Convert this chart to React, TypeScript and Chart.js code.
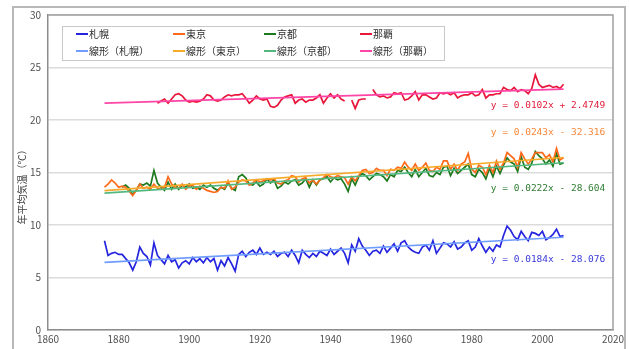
import { useEffect, useRef } from 'react';
import { Chart, registerables } from 'chart.js';

Chart.register(...registerables);

const START_YEAR = 1876;

const sapporo = [
  8.5, 7.1, 7.3, 7.4, 7.2, 7.2, 6.8, 6.4, 5.7, 6.5,
  7.9, 7.3, 7.0, 6.2, 8.3, 7.1, 6.7, 6.3, 7.1, 6.5,
  6.7, 5.9, 6.4, 6.6, 6.3, 6.9, 6.5, 6.8, 6.4, 6.9,
  6.5, 6.8, 5.7, 6.6, 6.1, 6.9, 6.3, 5.6, 7.2, 7.5,
  7.0, 7.4, 7.6, 7.2, 7.8, 7.2, 7.4, 7.2, 7.5, 7.0,
  7.3, 7.4, 7.0, 7.6, 7.1, 6.4, 7.6, 7.2, 6.9, 7.3,
  7.0, 7.5, 7.3, 7.1, 7.7, 7.2, 7.5, 7.8, 7.3, 6.4,
  8.1, 7.5, 8.7, 8.0, 7.6, 7.1, 7.5, 7.6, 7.3, 8.0,
  7.4, 7.8, 8.2, 7.5, 8.3, 8.5, 7.9, 7.6, 7.4, 7.3,
  7.9, 8.1, 7.6, 8.5, 7.3, 7.8, 8.3, 8.2, 7.9, 8.4,
  7.7, 7.9, 8.3, 8.5, 7.6, 7.9, 8.7, 8.0, 7.4, 7.9,
  7.5, 8.1, 7.9, 9.0, 9.9, 9.5, 8.9, 8.6, 9.4, 8.9,
  8.5, 9.3, 9.2, 9.0, 9.4, 8.6, 8.8, 9.1, 9.6, 8.9, 9.0,
];

const tokyo = [
  13.6, 13.9, 14.3, 14.0, 13.6, 13.7, 13.6, 13.2, 12.8, 13.3,
  13.9, 13.5, 13.6, 13.4, 13.9, 13.5, 13.4, 13.6, 14.6, 13.9,
  13.6, 13.5, 13.9, 13.4, 13.7, 13.8, 13.4, 13.7, 13.5, 13.3,
  13.2, 13.1, 13.2, 13.6, 13.5, 14.2, 13.4, 13.6, 14.1, 14.3,
  14.2, 13.8, 14.0, 14.3, 14.1, 14.2, 14.4, 14.3, 14.4, 14.0,
  13.9, 14.2, 14.3, 14.7, 14.6, 14.1, 14.4, 14.5, 14.0, 14.3,
  13.9, 14.3, 14.5, 14.8, 14.6, 14.5, 14.7, 14.6, 14.5, 13.9,
  14.6, 14.2, 14.7, 15.2, 15.3, 14.9, 15.0, 15.4, 15.2, 15.2,
  14.7, 15.3, 15.2, 15.5, 15.4, 16.0, 15.5, 15.2, 15.8, 15.2,
  15.5, 15.9, 15.2, 15.1, 15.5, 15.3, 16.1, 16.1, 15.3, 15.8,
  15.2, 15.8, 16.0, 16.8, 15.3, 15.0, 15.7, 15.5, 14.8, 15.7,
  15.0, 16.1, 15.3, 15.9, 16.9, 16.6, 16.3, 15.5, 16.9, 16.3,
  15.8, 16.3, 16.9, 16.9, 16.9, 16.4, 16.7, 16.0, 17.3, 16.2, 16.4,
];

const kyoto = [
  null, null, null, null, null, 13.6, 13.8, 13.5, 12.9, 13.3,
  13.9, 13.8, 14.0, 13.7, 15.2, 14.0, 13.6, 13.3, 14.1, 13.4,
  13.9, 13.4, 13.8, 13.6, 13.9, 13.5, 13.6, 13.4, 13.8, 13.6,
  13.8, 13.5, 13.3, 13.6, 13.4, 14.0, 13.5, 13.3, 14.6, 14.8,
  14.5, 13.9, 13.8, 14.1, 13.7, 13.9, 14.4, 14.0, 14.3, 13.5,
  13.7, 14.1, 13.9, 14.2, 14.3, 13.8, 14.0, 14.4, 13.6, 14.3,
  13.8, 14.3, 14.4, 14.6, 14.1, 14.5, 14.3, 14.4, 13.9, 13.2,
  14.4, 13.8, 14.6, 14.9, 14.7, 14.3, 14.6, 14.9, 14.8, 14.6,
  14.2, 14.8, 14.6, 15.2, 15.1, 15.5, 15.0, 14.6, 15.3, 14.6,
  15.0, 15.4, 14.7, 14.6, 15.0, 14.8, 15.5, 15.6, 14.7, 15.4,
  14.9, 15.2, 15.5, 15.8, 14.8, 14.6, 15.3, 15.0, 14.4, 15.4,
  14.6, 15.6, 14.9, 15.7, 16.4, 16.0, 15.8, 15.1, 16.5, 15.5,
  15.3, 15.9, 17.0, 16.6, 16.3, 15.8, 16.2, 15.6, 16.8, 15.8, 15.9,
];

const naha = [
  null, null, null, null, null, null, null, null, null, null,
  null, null, null, null, null, 21.6, 21.8, 22.0, 21.6, 22.0,
  22.4, 22.5, 22.3, 21.9, 21.7, 21.8, 21.7, 21.8, 22.0, 22.4,
  22.3, 21.9, 21.8, 21.9, 22.2, 22.4, 22.3, 22.4, 22.4, 22.5,
  22.1, 21.6, 21.9, 22.3, 22.0, 21.9, 22.0, 21.3, 21.2, 21.4,
  21.9, 22.2, 22.3, 22.4, 21.6, 21.9, 22.0, 21.7, 21.9, 21.9,
  22.1, 22.4, 21.6, 22.1, 22.5, 22.1, 22.4, 22.0, 21.8, null,
  21.9, 21.1, 21.9, 22.0, 22.0, null, 22.9, 22.4, 22.2, 22.3,
  22.1, 22.2, 22.6, 22.5, 22.6, 21.9, 22.0, 22.3, 22.7, 21.9,
  22.4, 22.4, 22.2, 22.0, 22.1, 22.6, 22.5, 22.6, 22.4, 22.6,
  22.1, 22.3, 22.4, 22.4, 22.6, 22.3, 22.4, 22.9, 22.1, 22.4,
  22.4, 22.5, 22.5, 23.1, 22.9, 22.8, 23.1, 22.7, 22.9, 22.8,
  22.5, 23.0, 24.3, 23.4, 23.1, 23.2, 23.3, 23.1, 23.2, 23.0, 23.4,
];

const trendYears = [1876, 2006];
const sapporoTrend = [6.44, 8.83];
const tokyoTrend = [13.27, 16.43];
const kyotoTrend = [13.04, 15.93];
const nahaTrend = [21.61, 22.94];

const seriesNames = ['札幌', '東京', '京都', '那覇'];
const trendNames = ['線形（札幌）', '線形（東京）', '線形（京都）', '線形（那覇）'];
const equations = ['y = 0.0102x + 2.4749', 'y = 0.0243x - 32.316', 'y = 0.0222x - 28.604', 'y = 0.0184x - 28.076'];
const xTickValues = [1860, 1880, 1900, 1920, 1940, 1960, 1980, 2000, 2020];
const yTickValues = [0, 5, 10, 15, 20, 25, 30];
const yAxisTitle = '年平均気温（℃）';

const dataColors = ['#2525e0', '#ff6a1a', '#1e7a1e', '#e8163a'];
const trendColors = ['#6f9cff', '#f5aa2a', '#52b87e', '#ff45a5'];
const eqColors = ['#e0203c', '#f7873a', '#2e7d32', '#3a3ad8'];

const JP = "'Noto Sans CJK JP', 'Noto Sans', sans-serif";

function toPoints(values: (number | null)[]) {
  return values.map((v, i) => ({ x: START_YEAR + i, y: v }));
}
function toTrend(values: number[]) {
  return values.map((v, i) => ({ x: trendYears[i], y: v }));
}

const decorPlugin = {
  id: 'decor',
  beforeDraw(chart: any) {
    const { ctx, width, height } = chart;
    ctx.save();
    ctx.fillStyle = '#ffffff';
    ctx.fillRect(0, 0, width, height);
    ctx.strokeStyle = '#b8b8b8';
    ctx.lineWidth = 2;
    ctx.strokeRect(13, 7, 612, height + 10);
    ctx.restore();
  },
  afterDraw(chart: any) {
    const { ctx, chartArea } = chart;
    const xs = chart.scales.x;
    const ys = chart.scales.y;
    ctx.save();
    ctx.strokeStyle = '#a0a0a0';
    ctx.lineWidth = 1.5;
    ctx.beginPath();
    ctx.moveTo(chartArea.left, chartArea.top);
    ctx.lineTo(chartArea.right, chartArea.top);
    ctx.lineTo(chartArea.right, chartArea.bottom);
    ctx.stroke();

    ctx.save();
    ctx.translate(22, (chartArea.top + chartArea.bottom) / 2 + 12);
    ctx.rotate(-Math.PI / 2);
    ctx.fillStyle = '#404040';
    ctx.font = `10px ${JP}`;
    ctx.textAlign = 'center';
    ctx.textBaseline = 'middle';
    ctx.fillText(yAxisTitle, 0, 0);
    ctx.restore();

    const lx = 62, ly = 26, lw = 382, lh = 34;
    ctx.fillStyle = '#ffffff';
    ctx.fillRect(lx, ly, lw, lh);
    ctx.strokeStyle = '#c8c8c8';
    ctx.lineWidth = 1;
    ctx.strokeRect(lx + 0.5, ly + 0.5, lw, lh);
    const colX = [76, 173, 264, 360];
    const rowY = [34, 51];
    ctx.font = `10px ${JP}`;
    ctx.textBaseline = 'middle';
    ctx.textAlign = 'left';
    for (let i = 0; i < 4; i++) {
      const rows = [
        { name: seriesNames[i], color: dataColors[i] },
        { name: trendNames[i], color: trendColors[i] },
      ];
      rows.forEach((r, j) => {
        ctx.strokeStyle = r.color;
        ctx.lineWidth = 2;
        ctx.beginPath();
        ctx.moveTo(colX[i], rowY[j]);
        ctx.lineTo(colX[i] + 12, rowY[j]);
        ctx.stroke();
        ctx.fillStyle = '#303030';
        ctx.fillText(r.name, colX[i] + 13, rowY[j] + 0.5);
      });
    }

    const eqVals = [21.35, 18.8, 13.5, 6.7];
    ctx.font = "9.5px 'DejaVu Sans Mono', monospace";
    ctx.textAlign = 'right';
    ctx.textBaseline = 'middle';
    const ex = xs.getPixelForValue(2017.8);
    equations.forEach((eq, i) => {
      ctx.fillStyle = eqColors[i];
      ctx.fillText(eq, ex, ys.getPixelForValue(eqVals[i]));
    });
    ctx.restore();
  },
};

export default function App() {
  const ref = useRef<HTMLCanvasElement | null>(null);
  useEffect(() => {
    if (!ref.current) return;
    const allData = [sapporo, tokyo, kyoto, naha];
    const allTrends = [sapporoTrend, tokyoTrend, kyotoTrend, nahaTrend];
    const datasets: any[] = [];
    allData.forEach((d, i) => {
      datasets.push({
        label: seriesNames[i],
        data: toPoints(d),
        borderColor: dataColors[i],
        backgroundColor: dataColors[i],
        borderWidth: 1.7,
        pointRadius: 0,
        spanGaps: false,
        order: 2,
      });
    });
    allTrends.forEach((t, i) => {
      datasets.push({
        label: trendNames[i],
        data: toTrend(t),
        borderColor: trendColors[i],
        backgroundColor: trendColors[i],
        borderWidth: 1.6,
        pointRadius: 0,
        order: 1,
      });
    });
    const chart = new Chart(ref.current, {
      type: 'line',
      data: { datasets },
      options: {
        animation: false,
        responsive: false,
        devicePixelRatio: 1,
        parsing: false as any,
        layout: { padding: { left: 0, top: 15, right: 16, bottom: 0 } },
        plugins: { legend: { display: false }, tooltip: { enabled: false } },
        scales: {
          x: {
            type: 'linear',
            min: xTickValues[0],
            max: xTickValues[xTickValues.length - 1],
            afterBuildTicks: (s: any) => {
              s.ticks = xTickValues.map((v) => ({ value: v }));
            },
            afterFit: (s: any) => {
              s.height = 19;
            },
            grid: { display: false, drawTicks: false },
            border: { display: true, color: '#8c8c8c', width: 1.5 },
            ticks: {
              color: '#505050',
              font: { size: 10, family: JP },
              padding: 3,
              maxRotation: 0,
              callback: (v: any) => String(v),
            },
          },
          y: {
            min: yTickValues[0],
            max: yTickValues[yTickValues.length - 1],
            afterBuildTicks: (s: any) => {
              s.ticks = yTickValues.map((v) => ({ value: v }));
            },
            afterFit: (s: any) => {
              s.width = 48;
            },
            grid: { color: '#dcdcdc', lineWidth: 1.5, drawTicks: false },
            border: { display: true, color: '#8c8c8c', width: 1.5 },
            ticks: {
              color: '#505050',
              font: { size: 10, family: JP },
              padding: 7,
              callback: (v: any) => String(v),
            },
          },
        },
      },
      plugins: [decorPlugin],
    });
    return () => chart.destroy();
  }, []);
  return (
    <div style={{ position: 'fixed', left: 0, top: 0, width: 629, height: 349, background: '#fff' }}>
      <canvas ref={ref} width={629} height={349} style={{ width: 629, height: 349, display: 'block' }} />
    </div>
  );
}
